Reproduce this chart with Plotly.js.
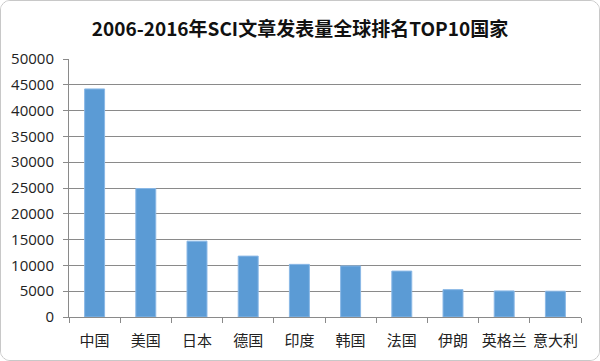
<!DOCTYPE html>
<html>
<head>
<meta charset="utf-8">
<script src="https://cdn.plot.ly/plotly-3.0.1.min.js"></script>
<style>
html,body{margin:0;padding:0;background:#fff;}
#wrap{position:absolute;left:0;top:0;width:598px;height:359px;border:1px solid #c8c8c8;border-radius:10px;overflow:hidden;}
#chart{width:598px;height:359px;}
</style>
</head>
<body>
<div id="wrap"><div id="chart"></div></div>
<script>
const countries = ['中国','美国','日本','德国','印度','韩国','法国','伊朗','英格兰','意大利'];
const papers = [44200, 24900, 14700, 11800, 10200, 9900, 8900, 5300, 5050, 5000];
const yTicks = [0,5000,10000,15000,20000,25000,30000,35000,40000,45000,50000];

Plotly.newPlot('chart', [{
  type: 'bar',
  x: countries,
  y: papers,
  marker: {color: '#5b9bd5', line: {color: '#8ab8e6', width: 1}},
  hoverinfo: 'x+y'
}], {
  width: 598, height: 359,
  margin: {l: 68, r: 18, t: 58, b: 43},
  paper_bgcolor: '#fff', plot_bgcolor: '#fff',
  bargap: 0.61,
  showlegend: false,
  title: {
    text: '2006-2016年SCI文章发表量全球排名TOP10国家',
    font: {family: 'Noto Sans CJK SC, sans-serif', size: 19, color: '#111', weight: 'bold'},
    x: 0.5, xanchor: 'center', y: 0.92, yanchor: 'middle'
  },
  xaxis: {
    type: 'category',
    showline: true, linecolor: '#8a8a8a', linewidth: 1,
    ticks: 'outside', tickson: 'boundaries', ticklen: 5, tickcolor: '#8a8a8a',
    tickangle: 0, ticklabelstandoff: 10,
    tickfont: {family: 'Noto Sans CJK SC, sans-serif', size: 15, color: '#222'},
    showgrid: false, fixedrange: true
  },
  yaxis: {
    range: [0, 50000],
    tickvals: yTicks,
    ticktext: yTicks.map(String),
    showline: true, linecolor: '#8a8a8a', linewidth: 1,
    ticks: 'outside', ticklen: 5, tickcolor: '#8a8a8a',
    ticklabelstandoff: 6,
    showgrid: true, gridcolor: '#8a8a8a', gridwidth: 1,
    zeroline: false,
    tickfont: {family: 'Open Sans, sans-serif', size: 15, color: '#222'},
    fixedrange: true
  }
}, {displayModeBar: false, staticPlot: true});
</script>
</body>
</html>
